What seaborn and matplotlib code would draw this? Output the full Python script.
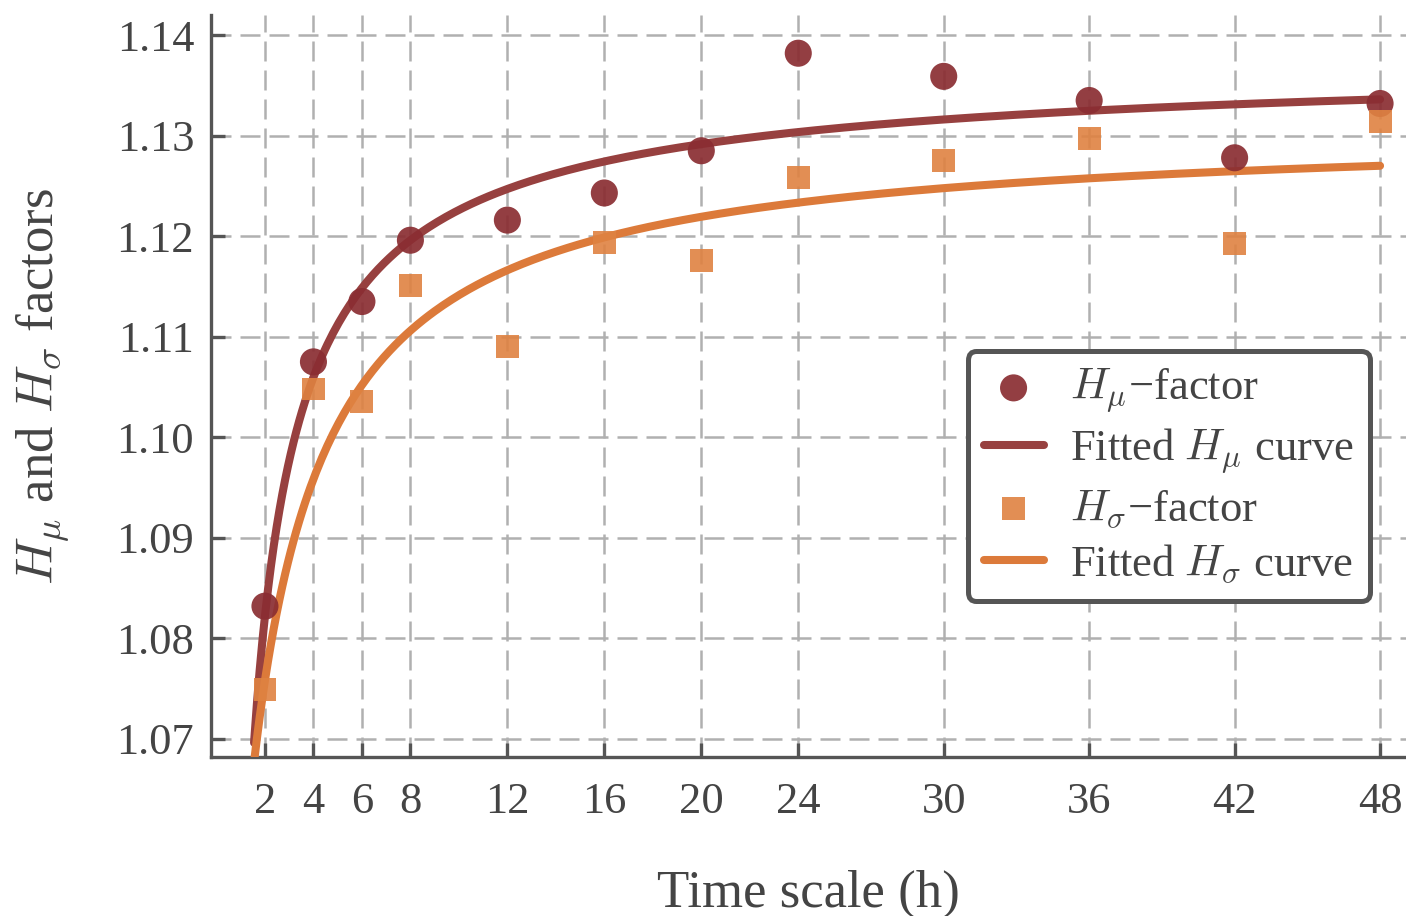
import numpy as np
import matplotlib
matplotlib.use("Agg")
import matplotlib.pyplot as plt
import seaborn as sns

# Aggregation time scales (hours)
time_h = [2, 4, 6, 8, 12, 16, 20, 24, 30, 36, 42, 48]

# Estimated H-factors per time scale
h_mu = [1.0832, 1.1075, 1.1135, 1.1196, 1.1216, 1.1243,
        1.1285, 1.1382, 1.1359, 1.1335, 1.1278, 1.1332]
h_sigma = [1.0749, 1.1048, 1.1036, 1.1151, 1.1090, 1.1194,
           1.1176, 1.1258, 1.1275, 1.1297, 1.1193, 1.1314]

# Fitted saturation curves: H(t) = a - b * (t + s)**(-c)
fit_mu = (1.1380, 0.0971, 0.0, 0.80)
fit_sigma = (1.1309, 0.1928, 1.5, 1.00)
fit_t_start, fit_t_end = 1.55, 48.0

y_ticks = [1.07, 1.08, 1.09, 1.10, 1.11, 1.12, 1.13, 1.14]

red_dot = "#8a2d32"
red_line = "#97403f"
orange_sq = "#df8241"
orange_line = "#dc7a3a"
text_col = "#444444"
axis_col = "#555555"


def saturation_model(t, a, b, s, c):
    return a - b * np.power(t + s, -c)


sns.set_theme(style="ticks")
plt.rcParams.update({
    "font.family": ["Liberation Serif", "DejaVu Serif"],
    "mathtext.fontset": "cm",
    "text.color": text_col,
    "axes.labelcolor": text_col,
    "xtick.labelcolor": text_col,
    "ytick.labelcolor": text_col,
})

fig = plt.figure(figsize=(7.03, 4.58), dpi=200)
ax = fig.add_axes([0.150, 0.1736, 0.85, 0.810])

t_fit = np.linspace(fit_t_start, fit_t_end, 400)

sns.scatterplot(x=time_h, y=h_mu, marker="o", s=95, color=red_dot, alpha=0.92,
                edgecolor="none", linewidth=0, label="$H_{\\mu}$\u2212factor",
                ax=ax, zorder=4)
sns.lineplot(x=t_fit, y=saturation_model(t_fit, *fit_mu), color=red_line, lw=2.9,
             label=r"Fitted $H_{\mu}$ curve", ax=ax, zorder=3)
sns.scatterplot(x=time_h, y=h_sigma, marker="s", s=68, color=orange_sq, alpha=0.9,
                edgecolor="none", linewidth=0, label="$H_{\\sigma}$\u2212factor",
                ax=ax, zorder=4)
sns.lineplot(x=t_fit, y=saturation_model(t_fit, *fit_sigma), color=orange_line, lw=2.9,
             label=r"Fitted $H_{\sigma}$ curve", ax=ax, zorder=3)

ax.set_xlim(-0.23, 49.07)
ax.set_ylim(1.0682, 1.142)
ax.set_xticks(time_h)
ax.set_xticklabels([str(t) for t in time_h])
ax.set_yticks(y_ticks)
ax.set_yticklabels([f"{v:.2f}" for v in y_ticks])

ax.grid(True, color="#b0b0b0", linestyle=(0, (8, 3.6)), linewidth=0.9)
ax.set_axisbelow(True)

for side in ["top", "right"]:
    ax.spines[side].set_visible(False)
for side in ["left", "bottom"]:
    ax.spines[side].set_color(axis_col)
    ax.spines[side].set_linewidth(1.2)

ax.tick_params(axis="both", direction="in", length=5, width=1.2,
               color=axis_col, labelsize=16)
ax.tick_params(axis="x", pad=9)
ax.tick_params(axis="y", pad=6)

ax.set_xlabel("Time scale (h)", fontsize=19, labelpad=17)
ax.set_ylabel(r"$H_{\mu}$ and $H_{\sigma}$ factors", fontsize=19, labelpad=16)

leg = ax.legend(loc="center right", bbox_to_anchor=(0.97, 0.379), frameon=True,
                fancybox=True, framealpha=1, fontsize=16, handlelength=1.35,
                handletextpad=0.6, borderpad=0.36, labelspacing=0.27,
                borderaxespad=0)
leg.get_frame().set_edgecolor(axis_col)
leg.get_frame().set_linewidth(1.8)
for txt in leg.get_texts():
    txt.set_color(text_col)

fig.savefig("out.png", dpi=200, facecolor="white")
